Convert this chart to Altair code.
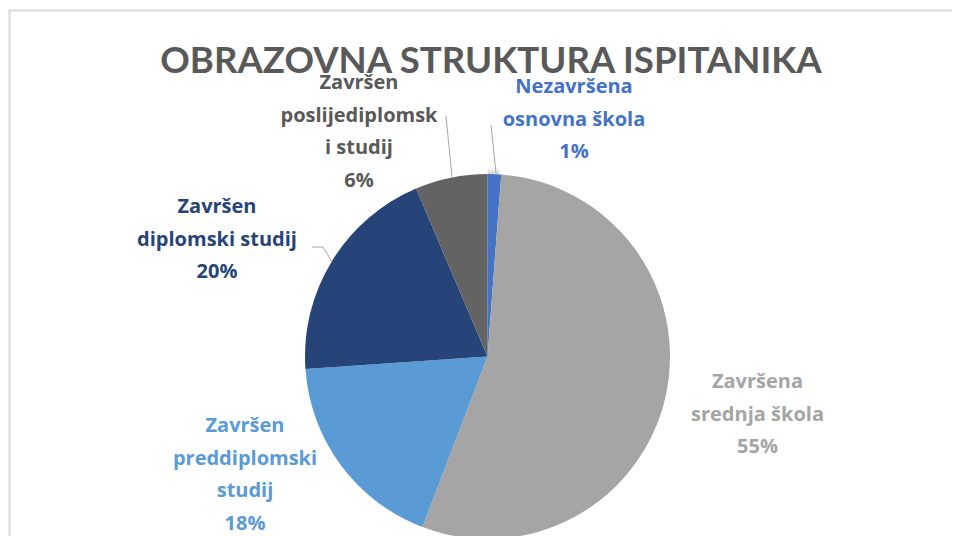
import altair as alt
import pandas as pd

# ---- data ----
categories = [
    "Nezavršena osnovna škola",
    "Završena srednja škola",
    "Završen preddiplomski studij",
    "Završen diplomski studij",
    "Završen poslijediplomski studij",
]
values = [1.2, 54.6, 18.1, 19.7, 6.4]
label_lines = [
    "Nezavršena\nosnovna škola",
    "Završena\nsrednja škola",
    "Završen\npreddiplomski\nstudij",
    "Završen\ndiplomski studij",
    "Završen\nposlijediplomsk\ni studij",
]
colors = ["#4472C4", "#A5A5A5", "#5B9BD5", "#264478", "#636363"]
label_colors = ["#4472C4", "#A5A5A5", "#5B9BD5", "#264478", "#595959"]
title_text = "OBRAZOVNA STRUKTURA ISPITANIKA"

# ---- layout (pixels inside the chart) ----
W, H = 944, 528
CX, CY, R = 479.5, 348.5, 182.5
label_x = [566, 749.5, 237, 209, 351]
label_y = [85, 380, 424, 205, 81]
leader_pts = [
    (0, [(483, 117), (488, 165)]),
    (4, [(438, 108), (444, 169)]),
    (3, [(304, 239), (315, 239), (324, 254)]),
]
TITLE_FONT = "Lato"
LABEL_FONT = "Open Sans"

pie_df = pd.DataFrame({
    "category": categories,
    "value": values,
    "color": colors,
    "order": list(range(len(categories))),
})

lab_df = pd.DataFrame({
    "text": [f"{l}\n{round(v)}%" for l, v in zip(label_lines, values)],
    "x": label_x,
    "y": label_y,
    "color": label_colors,
})

rows = []
for idx, pts in leader_pts:
    for k, (px, py) in enumerate(pts):
        rows.append({"g": idx, "k": k, "x": px, "y": py})
lead_df = pd.DataFrame(rows)

base_xy = dict(x=alt.value(CX), y=alt.value(CY))

# soft shadow rings
shadow_layers = []
for i in range(5):
    shadow_layers.append(
        alt.Chart(pd.DataFrame({"v": [1]})).mark_arc(
            outerRadius=R + 0.8 + i * 1.4, color="black", opacity=0.035
        ).encode(theta=alt.Theta("v:Q"), **base_xy)
    )

pie = alt.Chart(pie_df).mark_arc(outerRadius=R).encode(
    theta=alt.Theta("value:Q", stack=True),
    color=alt.Color("color:N", scale=None),
    order=alt.Order("order:Q"),
    tooltip=["category:N", "value:Q"],
    **base_xy,
)

leaders = alt.Chart(lead_df).mark_line(color="#A6A6A6", strokeWidth=1).encode(
    x=alt.X("x:Q", scale=None),
    y=alt.Y("y:Q", scale=None),
    detail="g:N",
    order="k:Q",
)

labels = alt.Chart(lab_df).mark_text(
    font=LABEL_FONT, fontSize=20, fontWeight="bold", lineBreak="\n", lineHeight=32.5,
    align="center", baseline="alphabetic",
).encode(
    x=alt.X("x:Q", scale=None),
    y=alt.Y("y:Q", scale=None),
    text="text:N",
    color=alt.Color("color:N", scale=None),
)

title = alt.Chart(pd.DataFrame({"t": [title_text]})).mark_text(
    font=TITLE_FONT, fontSize=36.6, fontWeight="bold", color="#595959",
    align="center", baseline="alphabetic",
).encode(x=alt.value(483), y=alt.value(65), text="t:N")

frame_top = alt.Chart(pd.DataFrame({"a": [0]})).mark_rule(
    color="#D9D9D9", strokeWidth=2
).encode(x=alt.value(0.5), x2=alt.value(W), y=alt.value(2.5))
frame_left = alt.Chart(pd.DataFrame({"a": [0]})).mark_rule(
    color="#D9D9D9", strokeWidth=2
).encode(x=alt.value(1.5), y=alt.value(1.5), y2=alt.value(H))

chart = alt.layer(
    frame_top, frame_left, *shadow_layers, pie, leaders, title, labels
).properties(
    width=W, height=H, padding=0, autosize=alt.AutoSizeParams(type="none"),
    background="white",
).configure_view(stroke=None)

chart.save("out.html", embed_options={"renderer": "svg", "actions": False})
